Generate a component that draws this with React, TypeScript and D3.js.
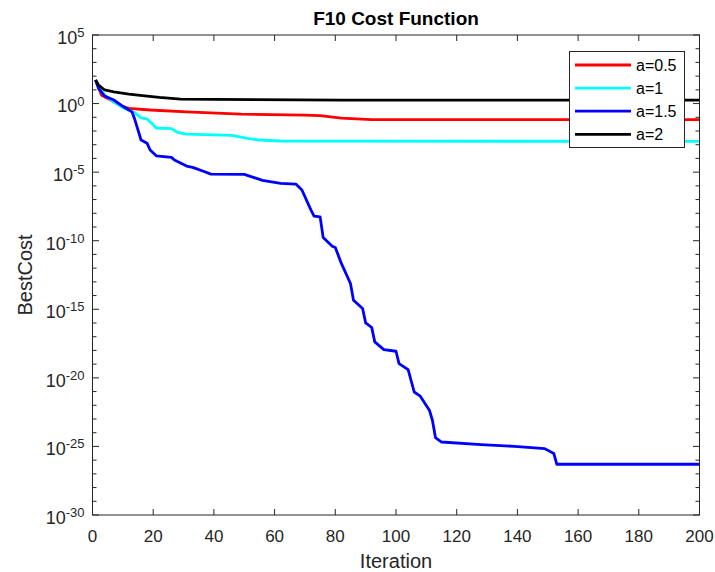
import * as d3 from "d3";

// iteration / best cost samples
const iterRed = [1, 3, 6, 10, 12, 19, 31, 49, 70, 75, 82, 92, 200];
const costRed = [52.5, 4.0, 1.82, 0.59, 0.45, 0.34, 0.25, 0.17, 0.145, 0.13, 0.087, 0.068, 0.068];

const iterCyan = [1, 2, 4, 7, 10, 14, 16, 18, 20, 21, 26, 28, 31, 46, 51, 55, 62, 200];
const costCyan = [52.5, 15.8, 4.2, 1.35, 0.5, 0.21, 0.089, 0.076, 0.028, 0.0166, 0.0151, 7.9e-3, 6.0e-3, 4.8e-3, 2.9e-3, 2.2e-3, 1.86e-3, 1.74e-3];

const iterBlue = [1, 2, 4, 7, 10, 13, 14, 16, 18, 19, 21, 26, 27, 31, 33, 37, 39, 50, 56, 62, 67, 69, 72, 73, 75, 76, 79, 80, 82, 85, 86, 89, 90, 92, 93, 96, 100, 101, 104, 106, 108, 111, 112, 113, 115, 128, 139, 149, 152, 153, 200];
const costBlue = [52.5, 12.6, 3.55, 1.82, 0.63, 0.25, 0.063, 2.2e-3, 1.26e-3, 4.1e-4, 1.55e-4, 1.2e-4, 7.6e-5, 2.75e-5, 2.24e-5, 1.07e-5, 7.2e-6, 6.9e-6, 2.5e-6, 1.5e-6, 1.35e-6, 5.0e-7, 1.7e-8, 6.3e-9, 5.5e-9, 1.74e-10, 4.0e-11, 3.2e-11, 2.2e-12, 7.6e-14, 4.6e-15, 1.15e-15, 1.02e-16, 4.7e-17, 4.2e-18, 1.15e-18, 8.7e-19, 1.1e-19, 4.0e-20, 9.3e-22, 4.6e-22, 4.4e-23, 8.1e-24, 4.4e-25, 2.1e-25, 1.35e-25, 1.02e-25, 6.9e-26, 3.0e-26, 5.0e-27, 5.0e-27];

const iterBlack = [1, 2, 4, 7, 12, 18, 22, 29, 40, 82, 200];
const costBlack = [52.5, 22.4, 9.8, 7.2, 4.9, 3.5, 2.8, 2.1, 2.0, 1.8, 1.8];

const seriesNames = ["a=0.5", "a=1", "a=1.5", "a=2"];
const seriesColors = ["#ff0000", "#00ffff", "#0000ff", "#000000"];

const xTicks = [0, 20, 40, 60, 80, 100, 120, 140, 160, 180, 200];
const yMajorExp = [5, 0, -5, -10, -15, -20, -25, -30];

const W = 715;
const H = 572;
const left = 92.5;
const right = 699.5;
const top = 35;
const bottom = 515;
const axisColor = "#262626";
const font = "'Liberation Sans', Arial, sans-serif";

export default function App() {
  const x = d3.scaleLinear().domain([0, 200]).range([left, right]);
  const y = d3.scaleLog().domain([1e-30, 1e5]).range([bottom, top]);

  const series = [
    { iters: iterRed, costs: costRed },
    { iters: iterCyan, costs: costCyan },
    { iters: iterBlue, costs: costBlue },
    { iters: iterBlack, costs: costBlack },
  ].map((s, i) => ({
    name: seriesNames[i],
    color: seriesColors[i],
    points: s.iters.map((it, j) => [it, s.costs[j]] as [number, number]),
  }));

  const line = d3
    .line<[number, number]>()
    .x((d) => x(d[0]))
    .y((d) => y(d[1]));

  const decades = d3.range(-30, 6);

  return (
    <svg
      width={W}
      height={H}
      style={{ position: "absolute", left: 0, top: 0, background: "#fff" }}
    >
      <rect x={0} y={0} width={W} height={H} fill="#fff" />
      <defs>
        <clipPath id="plot-clip">
          <rect x={left} y={top} width={right - left} height={bottom - top} />
        </clipPath>
      </defs>

      {/* series */}
      <g clipPath="url(#plot-clip)">
        {series.map((s) => (
          <path
            key={s.name}
            d={line(s.points) || ""}
            fill="none"
            stroke={s.color}
            strokeWidth={2.8}
            strokeLinejoin="round"
          />
        ))}
      </g>

      {/* box */}
      <rect
        x={left}
        y={top}
        width={right - left}
        height={bottom - top}
        fill="none"
        stroke={axisColor}
        strokeWidth={1}
      />

      {/* x ticks */}
      {xTicks.map((t) => (
        <g key={`xt-${t}`}>
          <line x1={x(t)} x2={x(t)} y1={bottom} y2={bottom - 6} stroke={axisColor} />
          <line x1={x(t)} x2={x(t)} y1={top} y2={top + 6} stroke={axisColor} />
          <text
            x={x(t)}
            y={541.5}
            textAnchor="middle"
            fontFamily={font}
            fontSize={17}
            fill={axisColor}
          >
            {t}
          </text>
        </g>
      ))}

      {/* y ticks */}
      {decades.map((e) => {
        const major = e % 5 === 0;
        const len = major ? 6.5 : 4;
        const yy = y(Math.pow(10, e));
        return (
          <g key={`yt-${e}`}>
            <line x1={left} x2={left + len} y1={yy} y2={yy} stroke={axisColor} />
            <line x1={right} x2={right - len} y1={yy} y2={yy} stroke={axisColor} />
          </g>
        );
      })}
      {yMajorExp.map((e) => {
        const yy = y(Math.pow(10, e));
        return (
          <text
            key={`yl-${e}`}
            x={84.5}
            y={yy + 8.8}
            textAnchor="end"
            fontFamily={font}
            fontSize={18}
            fill={axisColor}
          >
            10
            <tspan fontSize={13} dy={-6.8}>
              {e}
            </tspan>
          </text>
        );
      })}

      {/* labels */}
      <text
        x={(left + right) / 2}
        y={25}
        textAnchor="middle"
        fontFamily={font}
        fontSize={19}
        fontWeight="bold"
        fill="#000"
      >
        F10 Cost Function
      </text>
      <text
        x={(left + right) / 2}
        y={568}
        textAnchor="middle"
        fontFamily={font}
        fontSize={20}
        fill={axisColor}
      >
        Iteration
      </text>
      <text
        transform={`translate(32,${(top + bottom) / 2}) rotate(-90)`}
        textAnchor="middle"
        fontFamily={font}
        fontSize={20}
        fill={axisColor}
      >
        BestCost
      </text>

      {/* legend */}
      <g>
        <rect x={569.5} y={51.5} width={115} height={96} fill="#fff" stroke={axisColor} />
        {series.map((s, i) => {
          const ly = 65 + i * 23.1;
          return (
            <g key={`lg-${s.name}`}>
              <line x1={575} x2={631} y1={ly} y2={ly} stroke={s.color} strokeWidth={2.8} />
              <text
                x={636}
                y={ly + 5.5}
                fontFamily={font}
                fontSize={16}
                fill="#000"
              >
                {s.name}
              </text>
            </g>
          );
        })}
      </g>
    </svg>
  );
}
